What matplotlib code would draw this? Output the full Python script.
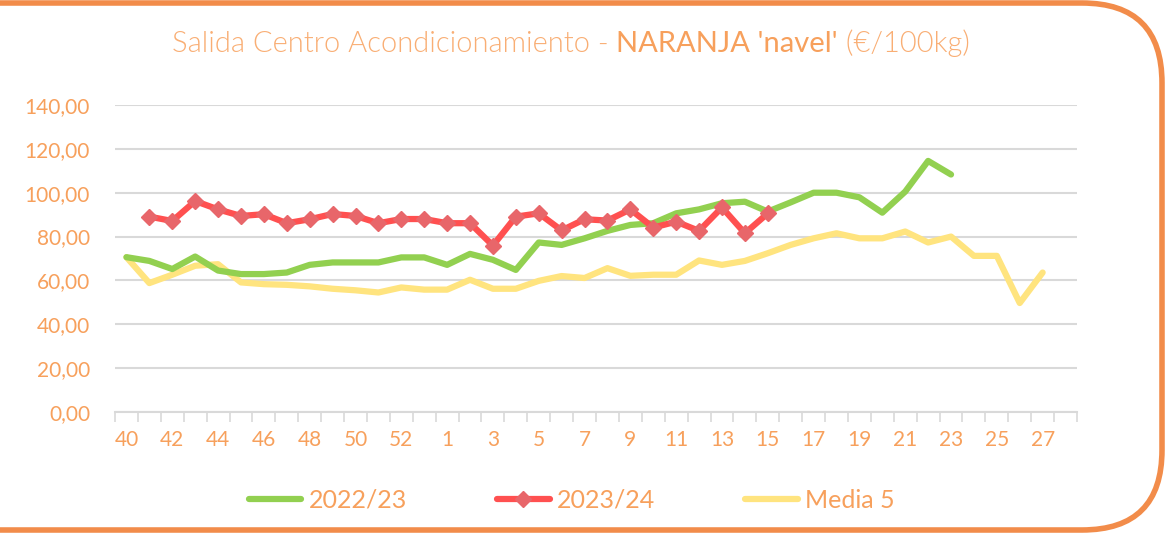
import numpy as np
import matplotlib.pyplot as plt
from matplotlib.path import Path
from matplotlib.patches import PathPatch
from matplotlib.ticker import FixedLocator

# ===== DATOS =====
semanas = list(range(40, 54)) + list(range(1, 29))
nan = np.nan
campana_2223 = [70.6, 68.9, 65.2, 70.9, 64.5, 62.9, 62.9, 63.6, 67.1, 68.2,
                68.2, 68.2, 70.5, 70.5, 67.1, 72.1, 69.4, 64.8, 77.3, 76.2,
                79.2, 82.6, 85.3, 86.1, 90.6, 92.4, 95.2, 95.9, 91.4, 95.6,
                100.0, 100.0, 97.9, 90.9, 100.5, 114.5, 108.3,
                nan, nan, nan, nan, nan]
campana_2324 = [nan, 89.1, 87.1, 96.2, 92.4, 89.4, 90.2, 86.1, 87.9, 90.3,
                89.4, 86.1, 88.0, 88.0, 86.1, 86.1, 75.9, 89.1, 90.6, 82.8,
                87.9, 87.3, 92.4, 84.1, 86.8, 82.6, 93.3, 81.5, 90.6,
                nan, nan, nan, nan, nan, nan, nan, nan, nan, nan, nan, nan, nan]
media_5 = [70.6, 58.8, 62.6, 66.7, 67.4, 59.1, 58.3, 58.0, 57.3, 56.2,
           55.5, 54.5, 56.8, 55.8, 55.8, 60.3, 56.2, 56.2, 59.8, 62.0,
           61.1, 65.6, 62.1, 62.6, 62.6, 69.1, 67.1, 68.9, 72.4, 76.2,
           79.2, 81.5, 79.2, 79.2, 82.3, 77.3, 80.0, 71.2, 71.2, 49.7,
           63.6, nan]

NARANJA = '#F7A05C'
NARANJA_CLARO = '#F9AE74'
GRIS = '#D9D9D9'
plt.rcParams['font.family'] = ['Lato', 'DejaVu Sans']

fig = plt.figure(figsize=(11.65, 5.33), dpi=100)
ax = fig.add_axes([115 / 1165, 121 / 533, 962 / 1165, 307 / 533])

x = np.arange(len(semanas))
ax.plot(x, campana_2223, color='#92D050', lw=4.5, solid_capstyle='round',
        solid_joinstyle='round', label='2022/23', zorder=3)
ax.plot(x, campana_2324, color='#FF5050', lw=4.5, solid_capstyle='round',
        marker='D', markersize=8, markerfacecolor='#E8666A',
        markeredgecolor='#E8666A', label='2023/24', zorder=4)
ax.plot(x, media_5, color='#FFE47F', lw=4.5, solid_capstyle='round',
        solid_joinstyle='round', label='Media 5', zorder=2)

# ===== EJES =====
ax.set_xlim(-0.5, len(semanas) - 0.5)
ax.set_ylim(0, 140)
ax.set_yticks(np.arange(0, 141, 20))
ax.set_yticklabels([f"{v:.2f}".replace('.', ',') for v in np.arange(0, 141, 20)])
ax.set_xticks(x[::2])
ax.set_xticklabels([str(s) for s in semanas[::2]])
ax.xaxis.set_minor_locator(FixedLocator(np.arange(-0.5, len(semanas), 1)))
ax.tick_params(axis='x', which='major', length=0, pad=13, labelsize=15,
               labelcolor=NARANJA)
ax.tick_params(axis='x', which='minor', length=7, width=1.2, color=GRIS)
ax.tick_params(axis='y', length=0, pad=18, labelsize=15, labelcolor=NARANJA)
ax.grid(axis='y', color=GRIS, lw=1.5)
ax.set_axisbelow(True)
for lado in ['top', 'right', 'left']:
    ax.spines[lado].set_visible(False)
ax.spines['bottom'].set_color(GRIS)
ax.spines['bottom'].set_linewidth(1.5)
ax.spines['bottom'].set_zorder(1)

# ===== TITULO =====
t1 = fig.text(172 / 1165, 1 - 44 / 533, "Salida Centro Acondicionamiento - ",
              fontsize=21, fontweight=300, color=NARANJA_CLARO, va='center')
t2 = ax.annotate("NARANJA 'navel'", xy=(1, 0), xycoords=t1, va='bottom',
                 fontsize=21, color=NARANJA, annotation_clip=False)
ax.annotate(" (€/100kg)", xy=(1, 0), xycoords=t2, va='bottom',
            fontsize=21, fontweight=300, color=NARANJA_CLARO,
            annotation_clip=False)

# ===== LEYENDA =====
fig.legend(loc='center', bbox_to_anchor=(0.491, 1 - 500 / 533), ncol=3,
           frameon=False, fontsize=18, labelcolor=NARANJA, handlelength=2.1,
           handletextpad=0.3, columnspacing=3.6)

# ===== MARCO =====
r = 80
verts = [(-10, 530), (1162 - r, 530), (1162, 530), (1162, 530 - r),
         (1162, 3 + r), (1162, 3), (1162 - r, 3), (-10, 3)]
codes = [Path.MOVETO, Path.LINETO, Path.CURVE3, Path.CURVE3,
         Path.LINETO, Path.CURVE3, Path.CURVE3, Path.LINETO]
verts = [(vx, 533 - vy) for vx, vy in verts]
marco = PathPatch(Path(verts, codes), transform=None, fill=False,
                  edgecolor='#F28C4A', lw=4)
fig.patches.append(marco)

fig.savefig('out.png', dpi=100)
